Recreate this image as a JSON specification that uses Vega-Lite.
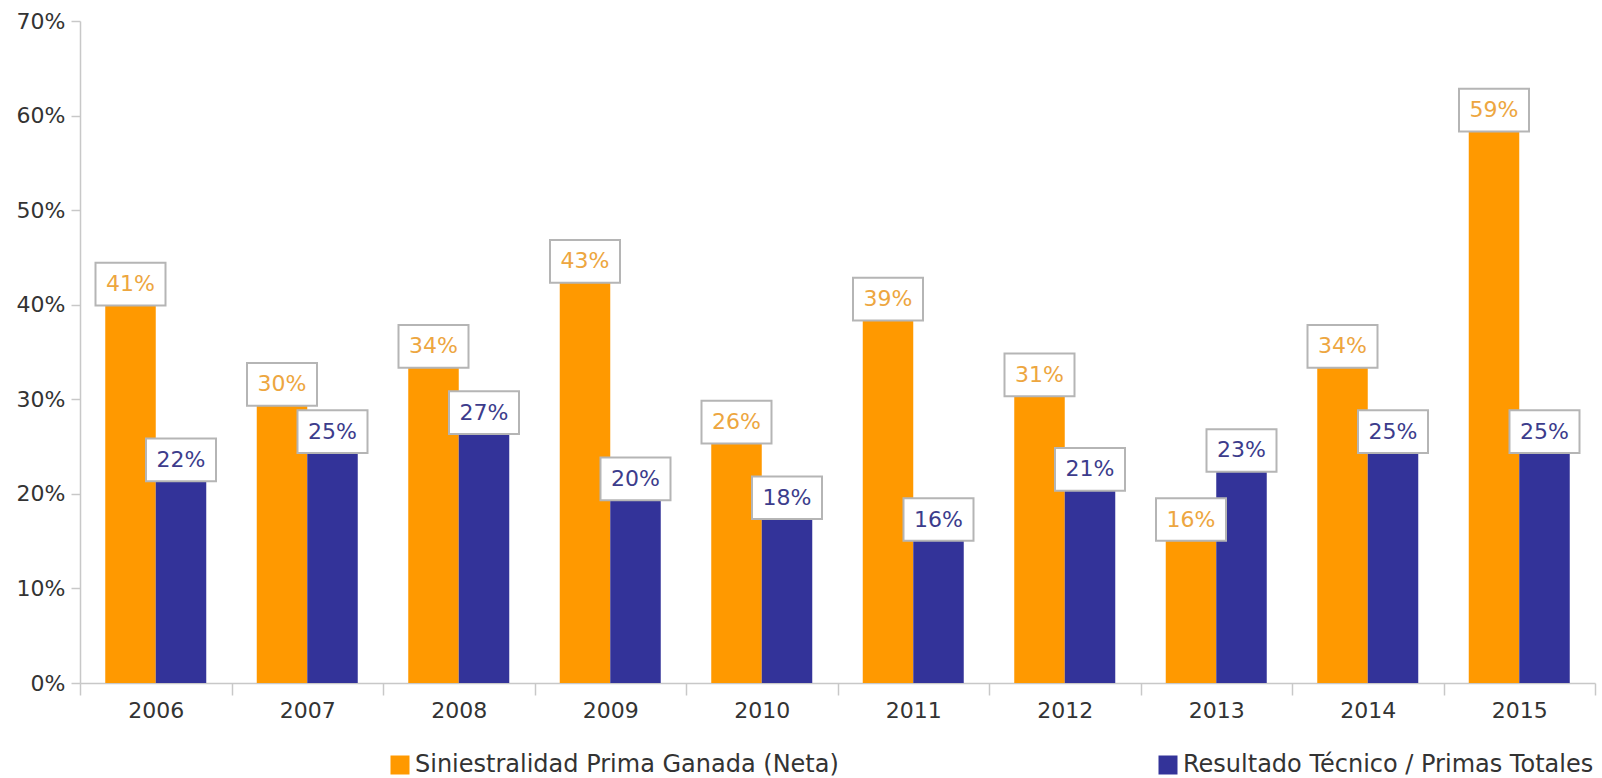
{
  "$schema": "https://vega.github.io/schema/vega-lite/v6.json",
  "width": 1515,
  "height": 662,
  "autosize": {"type": "none"},
  "padding": {"left": 80, "top": 21, "right": 7, "bottom": 95},
  "background": "white",
  "config": {"view": {"stroke": null}, "font": "DejaVu Sans"},
  "data": {
    "values": [
      {"year": "2006", "series": "Siniestralidad Prima Ganada (Neta)", "value": 0.406, "label": "41%"},
      {"year": "2006", "series": "Resultado Técnico / Primas Totales", "value": 0.22, "label": "22%"},
      {"year": "2007", "series": "Siniestralidad Prima Ganada (Neta)", "value": 0.30, "label": "30%"},
      {"year": "2007", "series": "Resultado Técnico / Primas Totales", "value": 0.25, "label": "25%"},
      {"year": "2008", "series": "Siniestralidad Prima Ganada (Neta)", "value": 0.34, "label": "34%"},
      {"year": "2008", "series": "Resultado Técnico / Primas Totales", "value": 0.27, "label": "27%"},
      {"year": "2009", "series": "Siniestralidad Prima Ganada (Neta)", "value": 0.43, "label": "43%"},
      {"year": "2009", "series": "Resultado Técnico / Primas Totales", "value": 0.20, "label": "20%"},
      {"year": "2010", "series": "Siniestralidad Prima Ganada (Neta)", "value": 0.26, "label": "26%"},
      {"year": "2010", "series": "Resultado Técnico / Primas Totales", "value": 0.18, "label": "18%"},
      {"year": "2011", "series": "Siniestralidad Prima Ganada (Neta)", "value": 0.39, "label": "39%"},
      {"year": "2011", "series": "Resultado Técnico / Primas Totales", "value": 0.157, "label": "16%"},
      {"year": "2012", "series": "Siniestralidad Prima Ganada (Neta)", "value": 0.31, "label": "31%"},
      {"year": "2012", "series": "Resultado Técnico / Primas Totales", "value": 0.21, "label": "21%"},
      {"year": "2013", "series": "Siniestralidad Prima Ganada (Neta)", "value": 0.157, "label": "16%"},
      {"year": "2013", "series": "Resultado Técnico / Primas Totales", "value": 0.23, "label": "23%"},
      {"year": "2014", "series": "Siniestralidad Prima Ganada (Neta)", "value": 0.34, "label": "34%"},
      {"year": "2014", "series": "Resultado Técnico / Primas Totales", "value": 0.25, "label": "25%"},
      {"year": "2015", "series": "Siniestralidad Prima Ganada (Neta)", "value": 0.59, "label": "59%"},
      {"year": "2015", "series": "Resultado Técnico / Primas Totales", "value": 0.25, "label": "25%"}
    ]
  },
  "encoding": {
    "x": {
      "field": "year", "type": "nominal",
      "scale": {"paddingInner": 0, "paddingOuter": 0},
      "axis": {
        "title": null, "labelAngle": 0, "tickBand": "extent",
        "domainColor": "#c8c8c8", "domainWidth": 1.5, "tickColor": "#c8c8c8", "tickWidth": 1.5, "tickSize": 12,
        "labelFontSize": 22, "labelColor": "#333333", "labelPadding": 5
      }
    },
    "xOffset": {
      "field": "series", "type": "nominal",
      "sort": ["Siniestralidad Prima Ganada (Neta)", "Resultado Técnico / Primas Totales"],
      "scale": {"paddingInner": 0, "paddingOuter": 0.5}
    },
    "y": {
      "field": "value", "type": "quantitative",
      "scale": {"domain": [0, 0.7], "nice": false},
      "axis": {
        "title": null, "grid": false, "format": ".0%", "values": [0, 0.1, 0.2, 0.3, 0.4, 0.5, 0.6, 0.7],
        "domainColor": "#c8c8c8", "domainWidth": 1.5, "tickColor": "#c8c8c8", "tickWidth": 1.5, "tickSize": 9,
        "labelFontSize": 22, "labelColor": "#333333", "labelPadding": 6
      }
    }
  },
  "layer": [
    {
      "mark": {"type": "bar"},
      "encoding": {
        "color": {
          "field": "series", "type": "nominal",
          "scale": {
            "domain": ["Siniestralidad Prima Ganada (Neta)", "Resultado Técnico / Primas Totales"],
            "range": ["#FF9900", "#333399"]
          },
          "legend": {
            "orient": "none", "legendX": 308, "legendY": 732, "direction": "horizontal",
            "title": null, "symbolType": "square", "symbolSize": 361, "symbolStrokeWidth": 0,
            "labelFontSize": 24, "labelColor": "#333333", "labelOffset": 3,
            "columnPadding": 317, "labelLimit": 1000
          }
        }
      }
    },
    {
      "mark": {
        "type": "point", "shape": "M-1,-0.61L1,-0.61L1,0.61L-1,0.61Z", "size": 4900,
        "filled": true, "fill": "white", "fillOpacity": 1, "opacity": 1,
        "stroke": "#b5b5b5", "strokeWidth": 2, "yOffset": -15
      },
      "encoding": {}
    },
    {
      "mark": {"type": "text", "fontSize": 22, "yOffset": -15, "baseline": "middle", "align": "center"},
      "encoding": {
        "text": {"field": "label"},
        "color": {
          "condition": {"test": "datum.series === 'Siniestralidad Prima Ganada (Neta)'", "value": "#EDA640"},
          "value": "#3C3C8C"
        }
      }
    }
  ]
}
